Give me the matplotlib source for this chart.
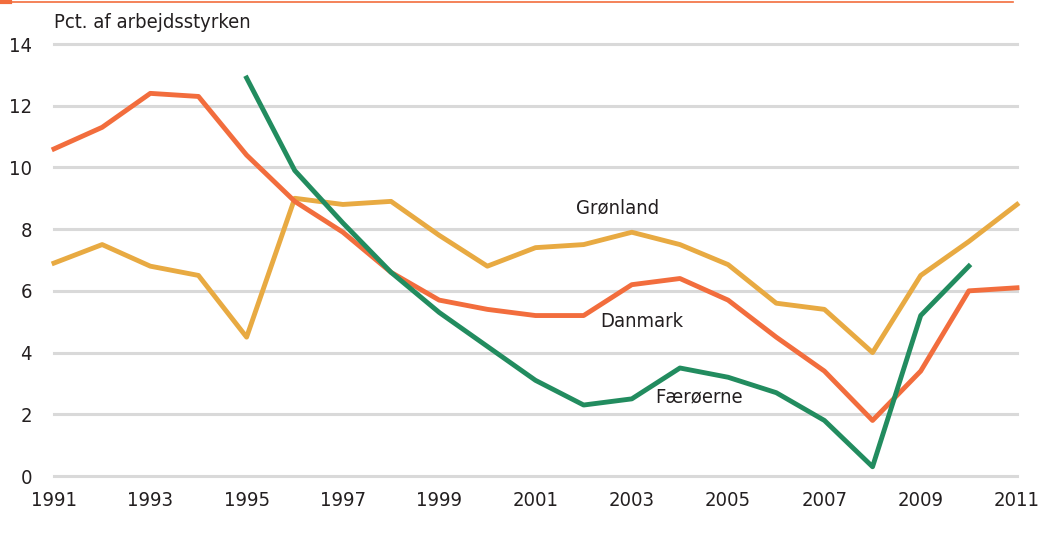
import matplotlib.pyplot as plt
from matplotlib.lines import Line2D

plt.rcParams['font.family'] = ['DejaVu Sans']
plt.rcParams['font.stretch'] = 'condensed'

years = list(range(1991, 2012))
danmark = [10.6, 11.3, 12.4, 12.3, 10.4, 8.9, 7.9, 6.6, 5.7, 5.4, 5.2,
           5.2, 6.2, 6.4, 5.7, 4.5, 3.4, 1.8, 3.4, 6.0, 6.1]
groenland = [6.9, 7.5, 6.8, 6.5, 4.5, 9.0, 8.8, 8.9, 7.8, 6.8, 7.4,
             7.5, 7.9, 7.5, 6.85, 5.6, 5.4, 4.0, 6.5, 7.6, 8.8]
faer_years = list(range(1995, 2011))
faeroerne = [12.9, 9.9, 8.2, 6.6, 5.3, 4.2, 3.1, 2.3, 2.5, 3.5, 3.2,
             2.7, 1.8, 0.3, 5.2, 6.8]

c_dk = '#F26D3D'
c_gl = '#E8AA42'
c_fo = '#228C5F'
txt = '#231f20'

fig = plt.figure(figsize=(10.51, 5.33), dpi=100)
ax = fig.add_axes([54/1051, 1-476/533, (1017-54)/1051, (476-44)/533])

for y in range(0, 15, 2):
    ax.axhline(y, color='#d9d9d9', lw=2.2, zorder=1, clip_on=False)

ax.plot(years, groenland, color=c_gl, lw=3.5, zorder=3, clip_on=False)
ax.plot(years, danmark, color=c_dk, lw=3.5, zorder=4, clip_on=False)
ax.plot(faer_years, faeroerne, color=c_fo, lw=3.5, zorder=5, clip_on=False)

ax.set_xlim(1991, 2011)
ax.set_ylim(0, 14)
ax.set_xticks(range(1991, 2012, 2))
ax.set_yticks(range(0, 15, 2))
ax.tick_params(length=0, labelsize=14.5, colors=txt)
ax.tick_params(axis='y', pad=16)
ax.tick_params(axis='x', pad=11)
for s in ax.spines.values():
    s.set_visible(False)

ax.text(2002.7, 8.7, 'Grønland', fontsize=14.5, color=txt, ha='center', va='center')
ax.text(2003.2, 5.0, 'Danmark', fontsize=14.5, color=txt, ha='center', va='center')
ax.text(2004.4, 2.55, 'Færøerne', fontsize=14.5, color=txt, ha='center', va='center')

fig.text(54/1051, 1-22/533, 'Pct. af arbejdsstyrken', fontsize=14.5, color=txt,
         ha='left', va='center')

fig.add_artist(Line2D([0, 1013/1051], [1-2/533, 1-2/533], color=c_dk, lw=1.2,
                      transform=fig.transFigure))
fig.add_artist(Line2D([0, 10/1051], [1-2/533, 1-2/533], color=c_dk, lw=3,
                      transform=fig.transFigure))

fig.savefig('out.png', dpi=100)
